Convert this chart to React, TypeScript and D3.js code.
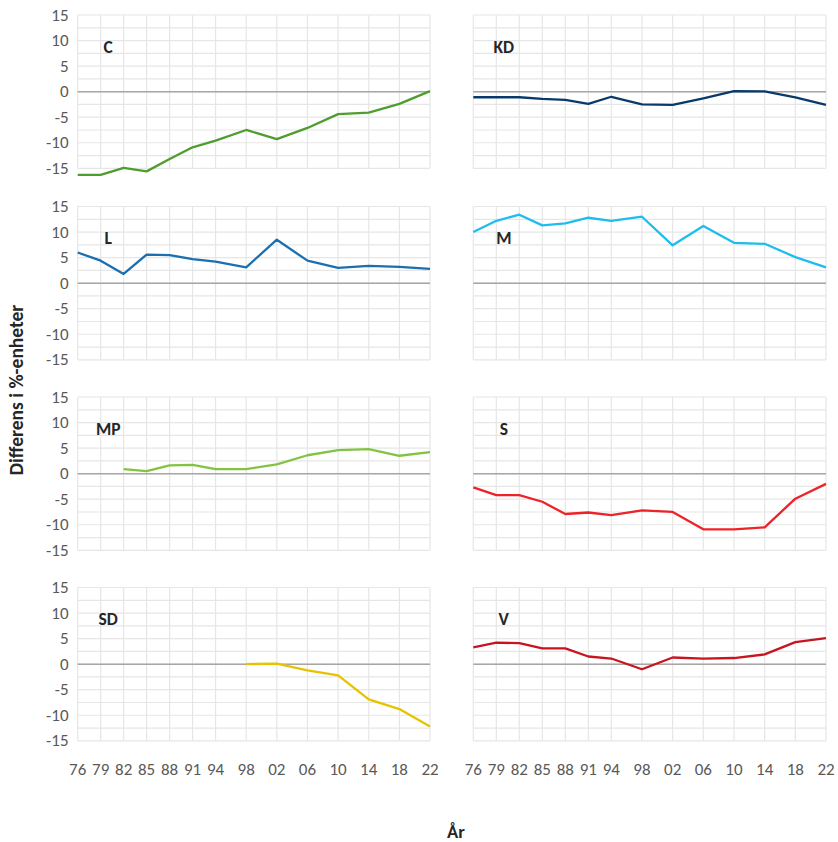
import React from "react";
import * as d3 from "d3";

const years = [1976, 1979, 1982, 1985, 1988, 1991, 1994, 1998, 2002, 2006, 2010, 2014, 2018, 2022];
const yearLabels = ["76", "79", "82", "85", "88", "91", "94", "98", "02", "06", "10", "14", "18", "22"];
const yTicks = [15, 10, 5, 0, -5, -10, -15];
const yGrid = [15, 12.5, 10, 7.5, 5, 2.5, 0, -2.5, -5, -7.5, -10, -12.5, -15];

const C = [-16.3, -16.3, -14.9, -15.6, -13.2, -10.9, -9.6, -7.5, -9.3, -7.1, -4.4, -4.1, -2.4, 0.1];
const KD = [-1.1, -1.1, -1.1, -1.4, -1.6, -2.4, -1.0, -2.5, -2.6, -1.3, 0.1, 0.05, -1.1, -2.6];
const L = [6.0, 4.4, 1.8, 5.6, 5.5, 4.7, 4.2, 3.1, 8.5, 4.4, 3.0, 3.4, 3.2, 2.8];
const M = [10.0, 12.2, 13.4, 11.3, 11.7, 12.8, 12.2, 13.0, 7.4, 11.2, 7.9, 7.7, 5.1, 3.1];
const MP = [null, null, 0.9, 0.5, 1.6, 1.7, 0.9, 0.9, 1.8, 3.6, 4.6, 4.8, 3.5, 4.2];
const S = [-2.7, -4.2, -4.2, -5.5, -7.9, -7.6, -8.1, -7.2, -7.5, -10.9, -10.9, -10.5, -4.9, -2.0];
const SD = [null, null, null, null, null, null, null, 0.0, 0.1, -1.2, -2.2, -6.9, -8.8, -12.2];
const V = [3.3, 4.2, 4.1, 3.1, 3.1, 1.5, 1.1, -1.0, 1.3, 1.1, 1.2, 1.9, 4.3, 5.1];

const panels = [
  { name: "C", values: C, color: "#4f9d2f", row: 0, col: 0 },
  { name: "KD", values: KD, color: "#0a3a6a", row: 0, col: 1 },
  { name: "L", values: L, color: "#1b6fb0", row: 1, col: 0 },
  { name: "M", values: M, color: "#1ebdf0", row: 1, col: 1 },
  { name: "MP", values: MP, color: "#83c341", row: 2, col: 0 },
  { name: "S", values: S, color: "#ee2229", row: 2, col: 1 },
  { name: "SD", values: SD, color: "#e6c300", row: 3, col: 0 },
  { name: "V", values: V, color: "#c8141f", row: 3, col: 1 },
];

const colX = [
  [77.7, 430],
  [473.3, 826],
];
const rowTop = [15, 206.5, 397, 587.5];
const plotH = 153.3;
const FONT = "Carlito, Calibri, Lato, 'Open Sans', sans-serif";

function Panel({ p }: { p: (typeof panels)[number] }) {
  const [x0, x1] = colX[p.col];
  const top = rowTop[p.row];
  const x = d3.scaleLinear().domain([1976, 2022]).range([x0, x1]);
  const y = d3.scaleLinear().domain([15, -15]).range([top, top + plotH]);
  const pts = years.map((yr, i) => ({ yr, v: p.values[i] }));
  const line = d3
    .line<{ yr: number; v: number | null }>()
    .defined((d) => d.v !== null)
    .x((d) => x(d.yr))
    .y((d) => y(d.v as number));
  return (
    <g>
      {yGrid.map((g) => (
        <line key={"h" + g} x1={x0} x2={x1} y1={y(g)} y2={y(g)} stroke="#e6e6e6" strokeWidth={1.2} />
      ))}
      {years.map((yr) => (
        <line key={"v" + yr} x1={x(yr)} x2={x(yr)} y1={y(15)} y2={y(-15)} stroke="#e6e6e6" strokeWidth={1.2} />
      ))}
      <line x1={x0} x2={x1} y1={y(0)} y2={y(0)} stroke="#a6a6a6" strokeWidth={1.5} />
      {p.col === 0 &&
        yTicks.map((t) => (
          <text key={"t" + t} x={68.5} y={y(t)} textAnchor="end" dominantBaseline="central" fontSize={17} fill="#595959" fontFamily={FONT}>
            {t}
          </text>
        ))}
      {p.row === 3 &&
        years.map((yr, i) => (
          <text key={"x" + yr} x={x(yr)} y={769} textAnchor="middle" dominantBaseline="central" fontSize={17} fill="#595959" fontFamily={FONT}>
            {yearLabels[i]}
          </text>
        ))}
      <path d={line(pts) || ""} fill="none" stroke={p.color} strokeWidth={2.3} strokeLinejoin="round" />
      <text x={x0 + 30.5} y={y(8.8)} textAnchor="middle" dominantBaseline="central" fontSize={17.5} fontWeight="bold" fill="#262626" fontFamily={FONT}>
        {p.name}
      </text>
    </g>
  );
}

export default function App() {
  return (
    <svg width={838} height={842} style={{ position: "absolute", left: 0, top: 0, background: "#fff" }}>
      <rect x={0} y={0} width={838} height={842} fill="#fff" />
      {panels.map((p) => (
        <Panel key={p.name} p={p} />
      ))}
      <text
        transform="translate(16,390) rotate(-90)"
        textAnchor="middle"
        dominantBaseline="central"
        fontSize={19.5}
        fontWeight="bold"
        fill="#262626"
        fontFamily={FONT}
      >
        Differens i %-enheter
      </text>
      <text x={456} y={831} textAnchor="middle" dominantBaseline="central" fontSize={18.5} fontWeight="bold" fill="#262626" fontFamily={FONT}>
        År
      </text>
    </svg>
  );
}
